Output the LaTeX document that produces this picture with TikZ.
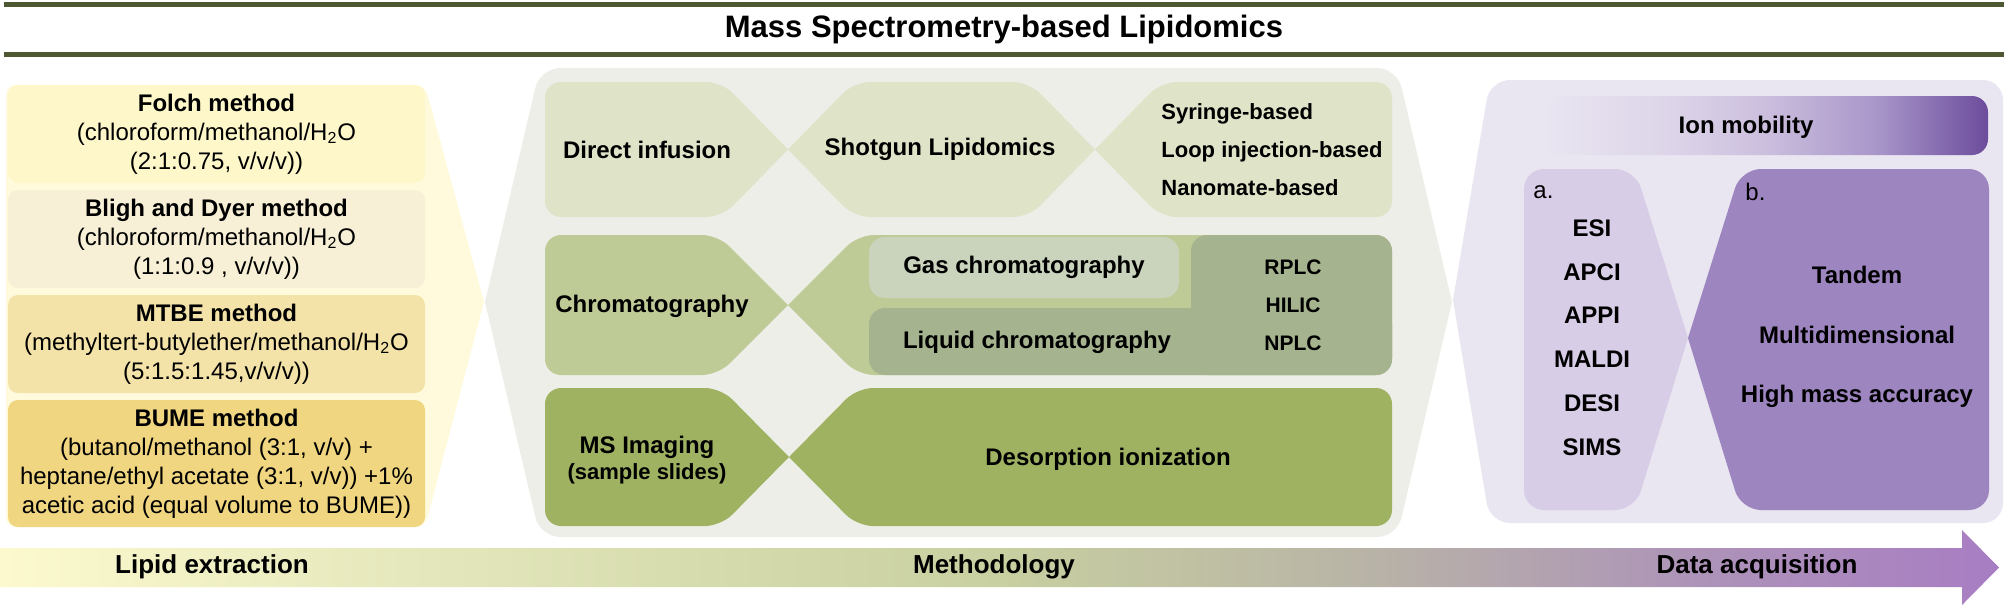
\documentclass[tikz,border=0pt]{standalone}
\usepackage{fontspec}
\setmainfont{Liberation Sans}
\definecolor{olv}{HTML}{4E5833}
\definecolor{ylwbg}{HTML}{FFFADC}
\definecolor{folchc}{HTML}{FEF7C9}
\definecolor{blighc}{HTML}{F8F0D6}
\definecolor{mtbec}{HTML}{F4E3A8}
\definecolor{bumec}{HTML}{F0D680}
\definecolor{grybg}{HTML}{ECEEE7}
\definecolor{rowa}{HTML}{DFE4C9}
\definecolor{rowb}{HTML}{BFCB96}
\definecolor{gasc}{HTML}{CAD4BC}
\definecolor{liqc}{HTML}{A5B38F}
\definecolor{rowc}{HTML}{9FB261}
\definecolor{purbg}{HTML}{E9E5F1}
\definecolor{srcc}{HTML}{D8CDE6}
\definecolor{anac}{HTML}{9D85C0}
\definecolor{im1}{HTML}{DCD3E8}
\definecolor{im2}{HTML}{CBBEDD}
\definecolor{im3}{HTML}{A896C9}
\definecolor{im4}{HTML}{6C4C9C}
\definecolor{bnd0}{HTML}{FCF9CE}
\definecolor{bnd1}{HTML}{E0E4B8}
\definecolor{bnd2}{HTML}{C8CFA0}
\definecolor{bnd3}{HTML}{B9B5A6}
\definecolor{bnd4}{HTML}{AD93B8}
\definecolor{bnd5}{HTML}{A87DC3}
\pgfdeclarehorizontalshading{bandshade}{100bp}{color(0bp)=(bnd0); color(25bp)=(bnd0);
  color(37.5bp)=(bnd1); color(50bp)=(bnd2); color(58.75bp)=(bnd3); color(67.5bp)=(bnd4);
  color(75bp)=(bnd5); color(100bp)=(bnd5)}
\pgfdeclarehorizontalshading{ionshade}{100bp}{color(0bp)=(purbg); color(25bp)=(purbg);
  color(40bp)=(im1); color(50bp)=(im2); color(62.5bp)=(im3); color(75bp)=(im4); color(100bp)=(im4)}
\tikzset{hd/.style={font=\bfseries\fontsize{15.5}{18}\selectfont},
  exbox/.style={rectangle, rounded corners=5pt, minimum width=208.5pt, minimum height=49pt,
    inner sep=0pt, align=center, font=\fontsize{12}{14.5}\selectfont},
  bt/.style={font=\bfseries\fontsize{12}{13}\selectfont, align=center, inner sep=0pt},
  rt/.style={font=\fontsize{12}{14}\selectfont, inner sep=0pt},
  bl/.style={font=\bfseries\fontsize{13}{15}\selectfont, inner sep=0pt}}

\begin{document}
\begin{tikzpicture}[x=0.5pt, y=-0.5pt]
  \useasboundingbox (0,0) rectangle (2008,607);
  % header
  \draw[olv, line width=2.5pt] (4,4) -- (2004,4);
  \draw[olv, line width=2.5pt] (4,54) -- (2004,54);
  \node[hd] (ttl) at (1004,29) {Mass Spectrometry-based Lipidomics};
  % lipid extraction
  \fill[ylwbg] (484,302) [rounded corners=5pt] -- (425,527) -- (6,527) -- (6,85) -- (425,85) -- (484,302);
  \node[exbox, fill=folchc] (folch) at (216.5,134) {{\bfseries Folch method}\\(chloroform/methanol/H\textsubscript{2}O\\(2:1:0.75, v/v/v))};
  \node[exbox, fill=blighc] (bligh) at (216.5,239) {{\bfseries Bligh and Dyer method}\\(chloroform/methanol/H\textsubscript{2}O\\(1:1:0.9 , v/v/v))};
  \node[exbox, fill=mtbec] (mtbe) at (216.5,344) {{\bfseries MTBE method}\\(methyltert-butylether/methanol/H\textsubscript{2}O\\(5:1.5:1.45,v/v/v))};
  \node[exbox, fill=bumec, minimum height=63.5pt] (bume) at (216.5,463.5) {{\bfseries BUME method}\\(butanol/methanol (3:1, v/v) +\\heptane/ethyl acetate (3:1, v/v)) +1\%\\acetic acid (equal volume to BUME))};
  % methodology panel
  \fill[grybg] (485,302) [rounded corners=10pt] -- (540,68) -- (1397,68) -- (1424.5,185) [sharp corners] -- (1452,302)
    -- (1424.5,419.5) [rounded corners=10pt] -- (1397,537) -- (540,537) -- (485,302);
  % direct infusion row
  \fill[rowa] (788,149.5) [rounded corners=8pt] -- (722,217) -- (545,217) -- (545,82) -- (722,82) -- (788,149.5);
  \fill[rowa] (788,149.5) [rounded corners=8pt] -- (854,82) -- (1029,82) -- (1062,115.75) [sharp corners] -- (1095,149.5)
    -- (1062,183.25) [rounded corners=8pt] -- (1029,217) -- (854,217) -- (788,149.5);
  \fill[rowa] (1095,149.5) [rounded corners=8pt] -- (1161,82) -- (1392,82) -- (1392,217) -- (1161,217) -- (1095,149.5);
  \node[bt] (di) at (647,149.5) {Direct infusion};
  \node[bt] (sg) at (940,149.5) {Shotgun Lipidomics};
  \node[bt, font=\bfseries\fontsize{11}{19}\selectfont, align=left, anchor=west] (sy) at (1161,150) {Syringe-based\\Loop injection-based\\Nanomate-based};
  % chromatography row
  \fill[rowb] (788,305) [rounded corners=8pt] -- (718,375) -- (545,375) -- (545,235) -- (718,235) -- (788,305);
  \fill[rowb] (788,305) [rounded corners=8pt] -- (858,235) -- (1392,235) -- (1392,375) -- (858,375) -- (788,305);
  \fill[liqc, rounded corners=8pt] (1191,235) rectangle (1392,375);
  \fill[liqc, rounded corners=8pt] (869,308) rectangle (1392,375);
  \node[bt, rectangle, rounded corners=8pt, fill=gasc, minimum width=155pt, minimum height=30.5pt] (gc) at (1024,267.5) {Gas chromatography};
  \node[bt] (ch) at (652,306) {Chromatography};
  \node[bt] (lc) at (1037,342) {Liquid chromatography};
  \node[bt, font=\bfseries\fontsize{10.5}{19}\selectfont] (rp) at (1293,305) {RPLC\\HILIC\\NPLC};
  % imaging row
  \fill[rowc] (789,457) [rounded corners=8pt] -- (721,526) -- (545,526) -- (545,388) -- (721,388) -- (789,457);
  \fill[rowc] (789,457) [rounded corners=8pt] -- (857,388) -- (1392,388) -- (1392,526) -- (857,526) -- (789,457);
  \node[bt] (msi) at (647,460) {MS Imaging\\{\fontsize{11}{13}\selectfont(sample slides)}};
  \node[bt] (dsi) at (1108,459) {Desorption ionization};
  % data acquisition panel
  \fill[purbg] (1453,300) [rounded corners=10pt] -- (1490,80) -- (2003,80) -- (2003,523) -- (1490,523) -- (1453,300);
  \shade[shading=ionshade, rounded corners=8pt] (1545,96) rectangle (1988,155);
  \node[bt] (ion) at (1746,127) {Ion mobility};
  \fill[srcc] (1688,338) [rounded corners=10pt] -- (1635,510) -- (1524,510) -- (1524,169) -- (1635,169) -- (1688,338);
  \fill[anac] (1688,338) [rounded corners=10pt] -- (1741,169) -- (1989,169) -- (1989,510) -- (1741,510) -- (1688,338);
  \node[rt, anchor=west] (la) at (1533,192) {a.};
  \node[rt, anchor=west] (lb) at (1745,192) {b.};
  \node[bt, font=\bfseries\fontsize{12}{21.9}\selectfont] (src) at (1592,337.5) {ESI\\APCI\\APPI\\MALDI\\DESI\\SIMS};
  \node[bt, font=\bfseries\fontsize{12}{29.75}\selectfont] (ana) at (1857,337) {Tandem\\Multidimensional\\High mass accuracy};
  % workflow arrow
  \shade[shading=bandshade] (0,548) -- (1962,548) -- (1962,530) -- (1999,567.5) -- (1962,605) -- (1962,587) -- (0,587) -- cycle;
  \node[bl] (le) at (212,567) {Lipid extraction};
  \node[bl] (mt) at (994,567) {Methodology};
  \node[bl] (da) at (1757,567) {Data acquisition};
\end{tikzpicture}
\end{document}
